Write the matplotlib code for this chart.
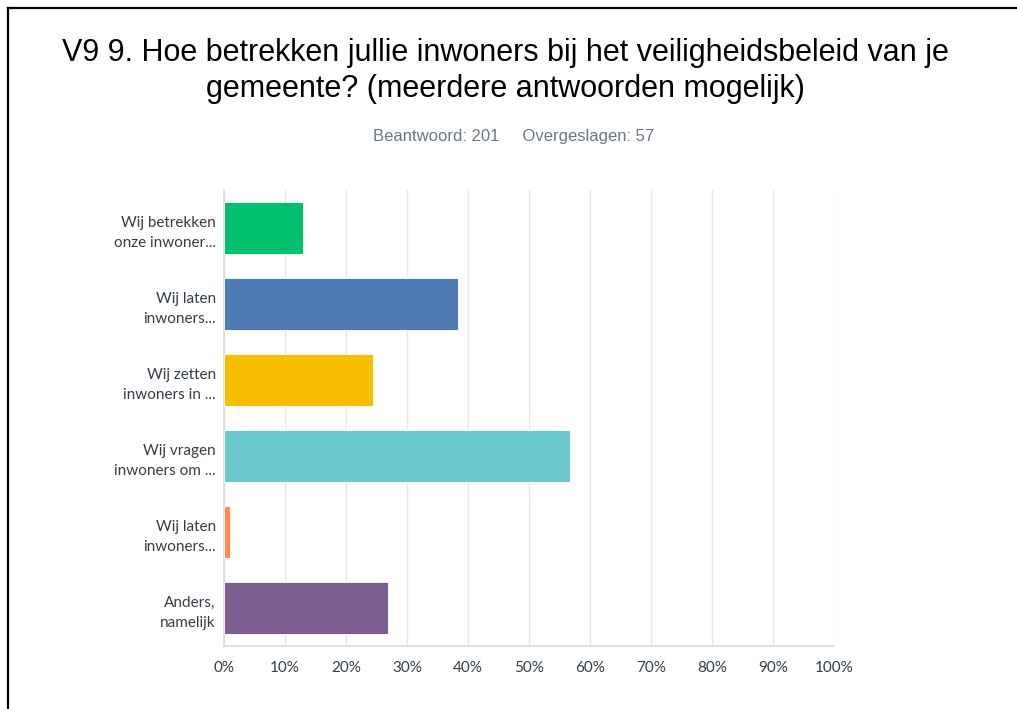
import numpy as np
import matplotlib
matplotlib.use('Agg')
import matplotlib.pyplot as plt
from matplotlib.lines import Line2D
from matplotlib.ticker import FuncFormatter

# answer options (labels as truncated in the survey export) and share of respondents
labels = ['Wij betrekken\nonze inwoner...',
          'Wij laten\ninwoners...',
          'Wij zetten\ninwoners in ...',
          'Wij vragen\ninwoners om ...',
          'Wij laten\ninwoners...',
          'Anders,\nnamelijk']
pct = [12.94, 38.31, 24.38, 56.72, 1.00, 26.87]
colours = ['#00bf6f', '#507cb6', '#f9be00', '#6bc8cd', '#ff8b4f', '#7d5e90']
xticks = [0, 10, 20, 30, 40, 50, 60, 70, 80, 90, 100]

title = 'V9 9. Hoe betrekken jullie inwoners bij het veiligheidsbeleid van je\ngemeente? (meerdere antwoorden mogelijk)'
subtitle = 'Beantwoord: 201     Overgeslagen: 57'

fig = plt.figure(figsize=(10.17, 7.09), dpi=100)
ax = fig.add_axes([224/1017, 1-646/709, 610/1017, 456/709])

ypos = np.arange(len(labels))
ax.barh(ypos, pct, height=0.69, color=colours, edgecolor='white', linewidth=0.6, zorder=3)

ax.set_xlim(0, 100)
ax.set_ylim(len(labels)-0.5, -0.5)
ax.set_xticks(xticks)
ax.xaxis.set_major_formatter(FuncFormatter(lambda v, p: '%d%%' % v))
ax.set_yticks(ypos)
ax.set_yticklabels(labels, linespacing=1.55, ha='right')

ax.grid(axis='x', color='#e8e8e8', linewidth=1, zorder=0)
for s in ['top', 'right']:
    ax.spines[s].set_visible(False)
for s in ['left', 'bottom']:
    ax.spines[s].set_color('#d9d9d9')
    ax.spines[s].set_linewidth(1.2)
ax.tick_params(axis='both', length=0, colors='#333e48', labelsize=11, labelfontfamily='Lato')
ax.tick_params(axis='x', pad=11)
ax.tick_params(axis='y', pad=6)

fig.text(0.497, 1-71/709, title, ha='center', va='center', fontsize=22,
         family='Liberation Sans', color='#000000', linespacing=1.28)
fig.text(0.505, 1-136/709, subtitle, ha='center', va='center', fontsize=12,
         family='Liberation Sans', color='#6b7785')

# black frame of the screenshot (left and top edges only)
fig.add_artist(Line2D([8/1017, 8/1017], [0, 1-8/709], color='black', lw=1.6, transform=fig.transFigure))
fig.add_artist(Line2D([8/1017, 1], [1-8/709, 1-8/709], color='black', lw=1.6, transform=fig.transFigure))

plt.savefig('out.png', dpi=100)
